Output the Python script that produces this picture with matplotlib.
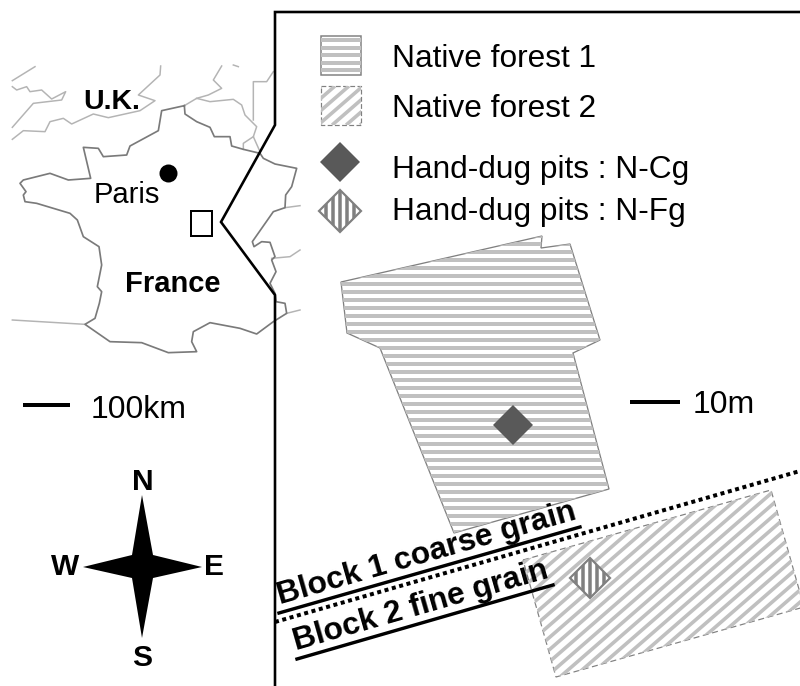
from matplotlib import pyplot as plt
from matplotlib.patches import Polygon
import numpy as np

plt.rcParams['font.family'] = ['Liberation Sans', 'DejaVu Sans']

# map outlines, traced on a 3x crop of the left panel (see crop() below)
france = [(553,197),(555,222),(590,245),(630,262),(643,290),(690,290),(695,318),(730,328),(780,340),
          (790,355),(825,372),(890,385),(875,440),(857,465),(855,503),(820,515),(785,565),(757,605),
          (762,620),(785,605),(810,607),(825,650),(815,660),(828,695),(810,730),(825,760),(828,785),
          (855,790),(860,820),(820,845),(770,882),(720,865),(630,848),(580,875),(575,905),(590,935),
          (505,938),(425,908),(330,905),(255,853),(285,835),(298,790),(305,755),(292,740),(305,675),
          (297,620),(250,590),(232,540),(210,520),(110,490),(75,485),(70,465),(78,455),(60,430),
          (70,420),(150,400),(205,420),(272,415),(250,322),(295,325),(310,350),(380,345),(390,318),
          (475,272),(485,212),(553,197)]
neighbours = [
    [(37,298),(70,272),(135,275),(150,245),(190,235),(215,252),(280,222),(325,233),(420,212),(465,182),
     (415,165),(480,105),(482,78)],
    [(37,262),(100,190),(185,180),(197,155),(155,177),(125,150),(90,155),(80,140),(50,150),(37,140)],
    [(37,122),(105,80)],
    [(665,78),(640,120),(665,145),(625,165),(590,175)],
    [(553,197),(590,175),(630,185),(700,178),(725,195),(735,225),(770,260),(760,290),(780,335)],
    [(760,290),(730,310),(730,328)],
    [(820,95),(800,125),(760,125),(760,240)],
    [(700,75),(715,80)],
    [(855,503),(900,497)],
    [(815,655),(870,650),(900,630)],
    [(860,820),(900,810)],
    [(37,840),(255,853)],
]

# inset frame
frame = [(800,12),(275,12),(275,125),(221,222),(275,295),(275,686)]
locator_box = [(191,211),(212,211),(212,236),(191,236)]
paris = (168,173)

# plots
forest_1 = [(341,282),(542,236),(541,248),(570,244),(600,340),(573,353),(609,489),(454,533),(380,348),(347,333)]
forest_2 = [(523,560),(771,490),(804,607),(556,677)]
legend_1 = [(321,36),(361,36),(361,75),(321,75)]
legend_2 = [(321,86),(361,86),(361,125),(321,125)]
pits_cg = [(340,162,20),(513,425,20)]
pits_fg = [(340,211,21),(590,578,20)]

block_line = [(275,622),(800,471)]
underline_1 = [(279,613),(580,527)]
underline_2 = [(297,659),(553,585)]

compass = [(142,495),(153,555),(202,567),(153,578),(142,638),(132,578),(83,567),(132,555)]
compass_labels = [('N',143,482),('S',142,658),('W',65,567),('E',214,567)]

bar_100km = [(23,405),(70,405)]
bar_10m = [(630,402),(680,402)]

legend_labels = [('Native forest 1',67),('Native forest 2',117),
                 ('Hand-dug pits : N-Cg',178),('Hand-dug pits : N-Fg',220)]


def crop(points):
    return [(x/3, 40 + y/3) for x, y in points]


def px(w):
    return w*0.72


def xy(points):
    return zip(*points)


def diamond(x, y, r):
    return [(x,y-r),(x+r,y),(x,y+r),(x-r,y)]


def stripes(ax, points, kind, color='#c0c0c0', width=4, step=8, offset=0):
    # stripes clipped by the outline of the shape
    clip = Polygon(points, closed=True, transform=ax.transData, fc='none', ec='none')
    ax.add_patch(clip)
    xs, ys = xy(points)
    x0, x1, y0, y1 = min(xs), max(xs), min(ys), max(ys)
    if kind == 'h':
        segs = [((x0,y),(x1,y)) for y in np.arange(y0 + offset, y1, step)]
    else:
        run = (y1-y0)*1.15
        segs = [((x,y1),(x + run,y0)) for x in np.arange(x0 - run, x1, step)]
    for a, b in segs:
        line, = ax.plot([a[0],b[0]], [a[1],b[1]], color=color, lw=px(width), solid_capstyle='butt')
        line.set_clip_path(clip)


fig = plt.figure(figsize=(8, 6.86), dpi=100)
ax = fig.add_axes([0, 0, 1, 1])
ax.set_xlim(0, 800)
ax.set_ylim(686, 0)
ax.axis('off')

for part in neighbours:
    ax.plot(*xy(crop(part)), color='#b4b4b4', lw=px(1.5))
ax.plot(*xy(crop(france)), color='#7a7a7a', lw=px(1.7))
ax.plot(*xy(frame), color='black', lw=px(2.6), solid_joinstyle='miter')
ax.add_patch(Polygon(locator_box, closed=True, fc='none', ec='black', lw=px(2)))
ax.plot(*paris, 'o', color='black', ms=px(18), mew=0)

stripes(ax, forest_1, 'h')
ax.add_patch(Polygon(forest_1, closed=True, fc='none', ec='#808080', lw=px(1.3)))
stripes(ax, legend_1, 'h', step=7.5, offset=4)
ax.add_patch(Polygon(legend_1, closed=True, fc='none', ec='#808080', lw=px(1.5)))

stripes(ax, forest_2, 'd', width=3.6, step=14)
ax.add_patch(Polygon(forest_2, closed=True, fc='none', ec='#808080', lw=px(1.2), ls=(0, (5, 3))))
stripes(ax, legend_2, 'd', width=3.6, step=14)
ax.add_patch(Polygon(legend_2, closed=True, fc='none', ec='#808080', lw=px(1.2), ls=(0, (4, 2))))

for p in pits_cg:
    ax.add_patch(Polygon(diamond(*p), closed=True, fc='#595959', ec='none', zorder=5))
for p in pits_fg:
    ax.add_patch(Polygon(diamond(*p), closed=True, fc='white', ec='none', zorder=4))
    pts = diamond(*p)
    clip = Polygon(pts, closed=True, transform=ax.transData, fc='none', ec='none')
    ax.add_patch(clip)
    for x in np.arange(p[0] - 14, p[0] + 15, 7):
        line, = ax.plot([x,x], [p[1]-p[2],p[1]+p[2]], color='#808080', lw=px(3.5), solid_capstyle='butt', zorder=5)
        line.set_clip_path(clip)
    ax.add_patch(Polygon(pts, closed=True, fc='none', ec='#808080', lw=px(2.2), zorder=6))

ax.plot(*xy(block_line), color='black', lw=px(4), ls=(0, (1, 0.9)))
ax.plot(*xy(underline_1), color='black', lw=px(3.4))
ax.plot(*xy(underline_2), color='black', lw=px(3.4))
ax.text(280, 604, 'Block 1 coarse grain', fontsize=22.8, fontweight='bold', rotation=16,
        rotation_mode='anchor', ha='left', va='baseline', zorder=7)
ax.text(296, 650, 'Block 2 fine grain', fontsize=22.8, fontweight='bold', rotation=16,
        rotation_mode='anchor', ha='left', va='baseline', zorder=7)

ax.add_patch(Polygon(compass, closed=True, fc='black', ec='none'))
for label, x, y in compass_labels:
    ax.text(x, y, label, fontsize=21.5, fontweight='bold', ha='center', va='center')

ax.plot(*xy(bar_100km), color='black', lw=px(4), solid_capstyle='butt')
ax.plot(*xy(bar_10m), color='black', lw=px(4), solid_capstyle='butt')
ax.text(91, 418, '100km', fontsize=23, ha='left', va='baseline')
ax.text(693, 413, '10m', fontsize=23, ha='left', va='baseline')

ax.text(112, 109, 'U.K.', fontsize=20.5, fontweight='bold', ha='center', va='baseline')
ax.text(94, 203, 'Paris', fontsize=21, ha='left', va='baseline')
ax.text(173, 292, 'France', fontsize=21, fontweight='bold', ha='center', va='baseline')

for label, y in legend_labels:
    ax.text(392, y, label, fontsize=22.8, ha='left', va='baseline')

fig.savefig('out.png', dpi=100)
